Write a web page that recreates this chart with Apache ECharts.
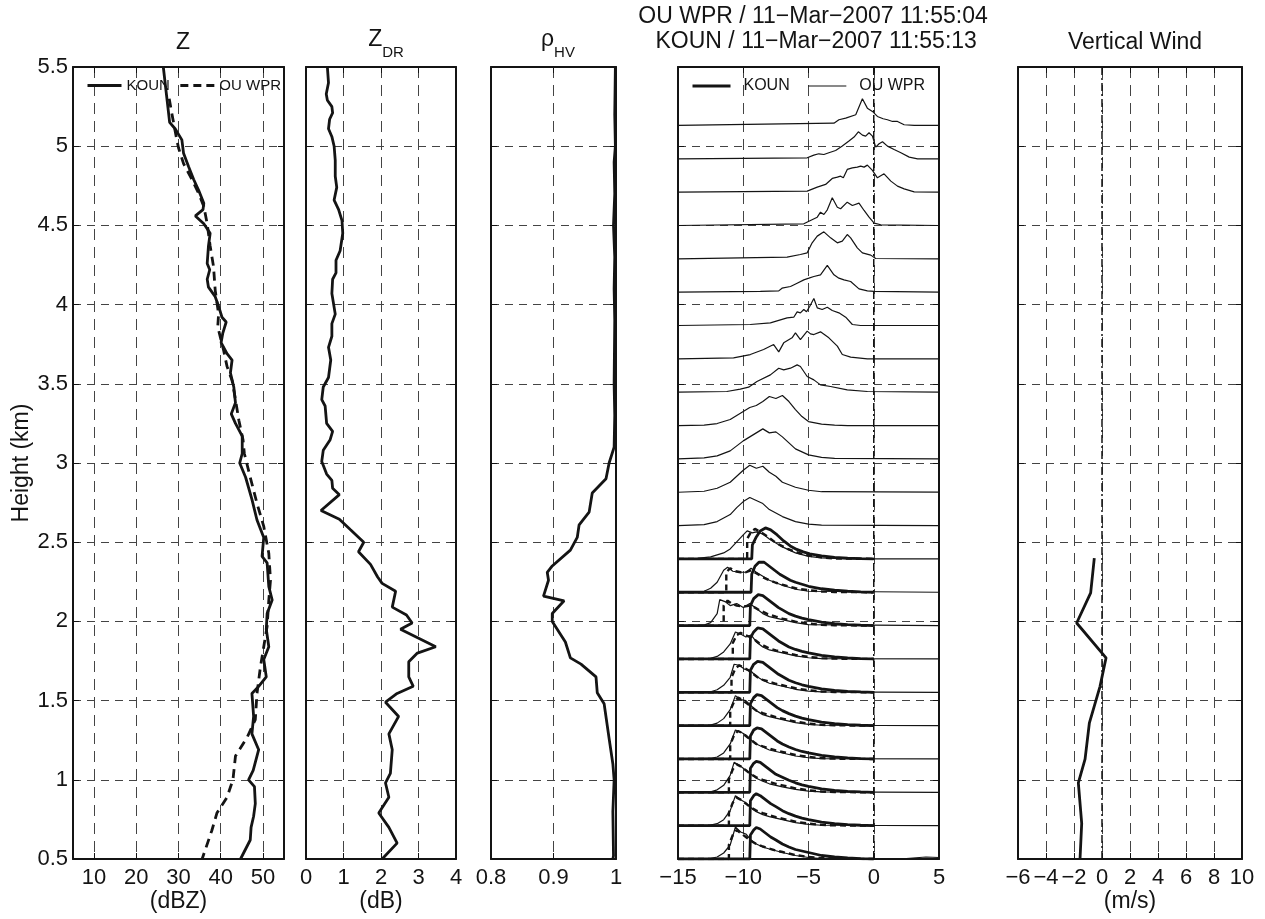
<!DOCTYPE html>
<html><head><meta charset="utf-8">
<script src="https://cdn.jsdelivr.net/npm/echarts/dist/echarts.min.js"></script>
<style>html,body{margin:0;padding:0;background:#fff}#c{width:1265px;height:919px}</style>
</head><body><div id="c"></div><script>
// ---------------- DATA ----------------
// Panel 1: reflectivity (dBZ) vs height (km)
const zKounDbz = [26.4,27.9,29.2,30.8,31.2,32.4,33.6,34.8,36.0,35.8,34.0,36.0,37.5,37.1,36.8,37.4,36.8,37.1,38.7,39.5,40.3,41.3,40.5,40.1,41.5,42.7,42.3,43.1,43.5,42.5,43.5,45.1,45.1,44.5,45.9,47.4,48.6,50.2,49.8,51.0,51.4,52.2,51.0,50.8,51.4,50.2,50.8,49.0,47.4,47.8,47.4,49.0,47.7,46.6,48.0,48.2,47.8,47.2,47.0,44.7];
const zKounHeight = [5.5,5.15,5.11,5.04,4.955,4.87,4.79,4.72,4.64,4.60,4.56,4.51,4.45,4.37,4.26,4.22,4.16,4.11,4.05,3.99,3.92,3.89,3.82,3.76,3.69,3.65,3.57,3.48,3.38,3.31,3.25,3.17,3.06,3.0,2.91,2.77,2.64,2.53,2.41,2.37,2.22,2.135,2.05,1.95,1.84,1.76,1.65,1.59,1.545,1.40,1.29,1.19,1.06,1.0,0.957,0.85,0.77,0.70,0.62,0.5];
const zWprDbz = [27.8,28.4,29.6,30.0,31.2,33.2,34.8,36.0,36.8,37.5,38.3,38.7,39.5,39.3,40.7,41.5,42.7,43.5,44.3,45.3,45.6,47.0,48.6,50.2,51.4,51.8,51.4,51.0,50.2,49.4,48.6,48.2,46.3,43.5,42.9,41.5,39.1,37.9,35.6];
const zWprHeight = [5.3,5.21,5.04,4.99,4.89,4.79,4.70,4.62,4.51,4.37,4.24,4.09,3.94,3.86,3.71,3.61,3.52,3.40,3.27,3.145,3.06,2.91,2.745,2.60,2.43,2.26,2.135,1.97,1.84,1.71,1.545,1.38,1.27,1.15,1.0,0.89,0.79,0.68,0.5];
// Panel 2: differential reflectivity (dB)
const zdrDb = [0.57,0.60,0.54,0.57,0.69,0.71,0.63,0.60,0.69,0.75,0.78,0.78,0.82,0.75,0.87,0.96,0.98,0.91,0.80,0.80,0.71,0.69,0.78,0.69,0.69,0.60,0.66,0.60,0.46,0.42,0.51,0.55,0.71,0.64,0.46,0.42,0.55,0.69,0.71,0.89,0.40,0.89,1.18,1.54,1.40,1.72,1.91,2.03,2.39,2.30,2.68,2.83,2.52,3.46,2.97,2.74,2.74,2.86,2.43,2.12,2.47,2.21,2.30,2.25,2.12,2.21,1.94,2.21,2.43,2.03];
const zdrHeight = [5.5,5.40,5.33,5.29,5.25,5.21,5.17,5.11,5.06,5.0,4.91,4.81,4.74,4.66,4.60,4.53,4.45,4.34,4.28,4.20,4.16,4.07,3.94,3.88,3.80,3.73,3.65,3.54,3.48,3.40,3.36,3.25,3.20,3.145,3.08,3.01,2.93,2.89,2.84,2.80,2.70,2.645,2.58,2.50,2.44,2.36,2.28,2.24,2.19,2.09,2.04,1.99,1.95,1.84,1.80,1.745,1.65,1.59,1.545,1.49,1.40,1.29,1.19,1.04,0.98,0.89,0.79,0.70,0.60,0.5];
// Panel 3: correlation coefficient
const rhoHv = [0.999,0.998,0.999,0.997,0.998,0.996,0.998,0.997,0.998,0.997,0.998,0.997,0.989,0.984,0.962,0.957,0.941,0.938,0.927,0.898,0.890,0.892,0.884,0.917,0.898,0.898,0.919,0.927,0.944,0.968,0.970,0.981,0.989,0.995,0.997,0.995,0.996,0.995];
const rhoHeight = [5.5,5.2,5.0,4.9,4.7,4.5,4.3,4.1,3.9,3.5,3.3,3.1,3.0,2.90,2.81,2.69,2.61,2.53,2.45,2.35,2.31,2.26,2.16,2.13,2.05,2.0,1.87,1.77,1.73,1.65,1.55,1.48,1.26,1.10,1.0,0.8,0.52,0.5];
// Panel 5: vertical wind (m/s)
const wWind = [-0.55,-0.81,-1.81,0.29,-0.14,-0.90,-1.21,-1.69,-1.45,-1.57];
const wHeight = [2.40,2.18,1.99,1.77,1.59,1.36,1.13,0.98,0.725,0.50];
// Panel 4: Doppler spectra, [velocity m/s, relative power] per range gate (bottom gate first)
const gateBaseKm = 0.5, gateStepKm = 0.2105;
const wprSpectra = [
 [[-15,0],[-12.5,0.5],[-12,2],[-11.5,6],[-11,14],[-10.6,32],[-10.2,27],[-9.8,25],[-9.4,19],[-9,15],[-8.5,12],[-8,10],[-7,6.5],[-6,3.5],[-5,1.5],[-4,0.5],[0,0],[2.5,0.5],[4,2],[5,1.5]],
 [[-15,0],[-12.5,0.5],[-12,2],[-11.5,6],[-11,15],[-10.6,30],[-10.2,26],[-9.8,23],[-9.4,18],[-9,14],[-8.5,11],[-8,9],[-7,6],[-6,3],[-5,1.2],[-4,0.4],[5,0]],
 [[-15,0],[-12.5,0.5],[-12,2.5],[-11.5,7],[-11,17],[-10.7,30],[-10.3,27],[-9.9,23],[-9.4,18],[-9,14],[-8.5,11],[-8,8.5],[-7,5.5],[-6,3],[-5,1.2],[-4,0.4],[5,0]],
 [[-15,0],[-12.5,0.5],[-12,2],[-11.5,6],[-11,15],[-10.6,29],[-10.2,27],[-9.8,24],[-9.4,19],[-9,15],[-8.5,12],[-8,9],[-7,6],[-6,3],[-5,1.2],[-4,0.4],[5,0]],
 [[-15,0],[-12.5,0.5],[-12,2.5],[-11.5,7],[-11,16],[-10.6,30],[-10.2,26],[-9.8,25],[-9.4,20],[-9,15],[-8.5,11],[-8,9],[-7,6],[-6,3],[-5,1.2],[-4,0.4],[5,0]],
 [[-15,0],[-12.5,0.5],[-12,2.5],[-11.5,7],[-11,15],[-10.7,28],[-10.3,27],[-9.9,23],[-9.4,21],[-9,16],[-8.5,12],[-8,9],[-7,6],[-6,3],[-5,1.2],[-4,0.4],[5,0]],
 [[-15,0],[-12.5,0.5],[-12,2.5],[-11.5,7],[-11,15],[-10.6,27],[-10.2,25],[-9.8,22],[-9.4,24],[-9,17],[-8.5,12],[-8,9],[-7,6],[-6,3],[-5,1.2],[-4,0.4],[5,0]],
 [[-15,0],[-13,0.5],[-12.5,3],[-12,12],[-11.8,26],[-11.4,24],[-11,20],[-10.5,22],[-10,18],[-9.5,22],[-9,17],[-8.5,12],[-8,9],[-7,6],[-6,3],[-5,1],[5,0]],
 [[-15,0],[-13,1],[-12.5,4],[-12,10],[-11.5,22],[-11.2,25],[-10.8,21],[-10.3,20],[-9.8,20],[-9.4,24],[-9,20],[-8.5,16],[-8,12],[-7,7],[-6,3],[-5,1],[5,0]],
 [[-15,0],[-13.5,0.5],[-12.5,2],[-11.5,6],[-11,10],[-10.5,17],[-10,24],[-9.7,28],[-9.3,26],[-9,27],[-8.5,25],[-8,20],[-7,12],[-6,6],[-5,2.5],[-4,1],[-2,0],[5,0]],
 [[-15,0],[-13,1],[-12,4],[-11,11],[-10.5,18],[-10,24],[-9.5,28],[-9,25],[-8.5,22],[-8,16],[-7,9],[-6,4],[-5,1.5],[-4,0.5],[5,0]],
 [[-15,0],[-13,1],[-12,4],[-11,10],[-10.5,16],[-10,22],[-9.5,27],[-9,24],[-8.5,26],[-8,20],[-7.5,16],[-7,10],[-6,5],[-5,2],[-4,0.5],[5,0]],
 [[-15,0],[-13,1],[-12,3],[-11,8],[-10.5,13],[-10,18],[-9.5,22],[-9,26],[-8.5,30],[-8,26],[-7.5,27],[-7,22],[-6.5,16],[-6,10],[-5,4],[-4,1.5],[-3,0.5],[5,0]],
 [[-15,0],[-13,0.5],[-12,2],[-11,6],[-10.5,10],[-10,14],[-9.5,18],[-9,20],[-8.5,24],[-8,29],[-7.5,27],[-7,30],[-6.5,24],[-6,16],[-5.5,9],[-5,4],[-4,1.5],[-3,0.5],[-2,0],[5,0]],
 [[-15,0],[-11.26,0.7],[-10.23,3],[-9.59,5],[-8.95,10.7],[-7.92,17.3],[-7.28,24],[-6.90,22.3],[-6.38,24],[-5.87,27.3],[-5.62,25.7],[-5.10,15.7],[-4.59,12.3],[-4.08,7.3],[-3.31,5.7],[-2.03,2.3],[-0.49,0.7],[5,0]],
 [[-15,0],[-10.74,1],[-9.46,4.3],[-8.44,9.3],[-7.67,14.3],[-7.28,7],[-6.90,16],[-6.26,21],[-6.00,26],[-5.62,19.3],[-5.10,27.7],[-4.85,25],[-4.59,24.3],[-4.08,27],[-3.44,21],[-2.79,12.7],[-2.41,4.3],[-1.77,1.7],[-0.49,0],[5,0]],
 [[-15,0],[-9.46,1],[-7.92,2.7],[-6.64,7.7],[-6.13,8.3],[-5.87,13.7],[-5.62,12.7],[-5.36,16],[-5.15,13.7],[-4.90,19.3],[-4.59,27],[-4.33,17.7],[-3.95,16],[-3.56,18.3],[-3.18,15],[-2.67,12.7],[-2.15,8.3],[-1.64,1],[-1.0,0],[5,0]],
 [[-15,0],[-8.69,0.7],[-7.28,1.3],[-7.03,4],[-6.38,5.7],[-5.87,9],[-5.36,12.3],[-4.97,14],[-4.59,15.7],[-4.08,17.3],[-3.56,26.7],[-3.05,17.3],[-2.67,14],[-2.28,12.3],[-1.77,10.7],[-1.13,3.3],[-0.49,1.3],[0.03,0.7],[5,0]],
 [[-15,0],[-6.64,1.7],[-5.62,4.3],[-5.10,6],[-4.72,16],[-4.33,22.7],[-3.82,27],[-3.31,21],[-2.79,16],[-2.41,17.7],[-2.03,24.3],[-1.77,21],[-1.26,11],[-0.87,6],[-0.23,3.7],[0.15,0.3],[5,0]],
 [[-15,0],[-5.36,1.7],[-4.85,5],[-4.33,8.3],[-4.08,13.3],[-3.82,11],[-3.56,15.7],[-3.18,27.7],[-2.79,18.3],[-2.54,16.7],[-2.03,23.3],[-1.64,20],[-1.13,22.3],[-0.74,15],[-0.36,8.3],[0.03,2.3],[0.54,0.7],[5,0]],
 [[-15,0],[-5.10,1],[-4.33,5],[-3.69,7.7],[-3.18,13.7],[-2.79,15],[-2.54,16],[-2.33,14.3],[-2.03,22.7],[-1.64,24.3],[-1.26,25],[-1.0,26],[-0.74,25],[-0.49,27],[-0.10,21.7],[0.28,14.3],[0.79,18.3],[1.31,11],[1.82,6],[2.33,3.3],[3.10,0.3],[5,0]],
 [[-15,0],[-5.10,1],[-4.59,3.7],[-4.21,5],[-3.82,4.3],[-3.44,6],[-2.92,8.3],[-2.41,12.7],[-1.90,17.7],[-1.51,21.7],[-1.18,27],[-0.87,23.7],[-0.62,22.7],[-0.36,26],[-0.10,22.7],[0.15,11.7],[0.41,15],[0.67,17],[1.05,12.7],[1.56,9.3],[2.08,6],[2.72,1.7],[3.36,0],[5,0]],
 [[-15,0],[-3.05,2.3],[-2.67,5.7],[-2.15,7.3],[-1.38,10.7],[-0.87,26.7],[-0.49,17.3],[-0.10,14],[0.28,9],[0.72,6.7],[1.05,5.7],[1.44,4],[1.82,4],[2.33,0.7],[3.10,0],[5,0]]
];
// KOUN spectra (thick), lowest 10 gates
const kounSpectra = [
 [[-15,0],[-9.5,0],[-9.45,24],[-9.2,29],[-9.0,31.5],[-8.7,30],[-8.3,26],[-7.9,22],[-7.5,19],[-7,15],[-6.5,12],[-6,9.5],[-5.5,8],[-5,6.5],[-4,3.5],[-3,2],[-2,1],[-1,0.4],[0,0]],
 [[-15,0],[-9.5,0],[-9.45,25],[-9.2,30],[-9.0,32],[-8.7,30],[-8.3,26],[-7.9,22],[-7.5,19],[-7,15],[-6.5,12],[-6,9.5],[-5.5,7.5],[-5,6],[-4,3.5],[-3,2],[-2,1],[-1,0.4],[0,0]],
 [[-15,0],[-9.5,0],[-9.45,24],[-9.2,29],[-9.0,31],[-8.7,30],[-8.3,26],[-7.9,22],[-7.5,18],[-7,15],[-6.5,12],[-6,9.5],[-5.5,7.5],[-5,6],[-4,3.5],[-3,2],[-2,1],[-1,0.4],[0,0]],
 [[-15,0],[-9.5,0],[-9.45,23],[-9.2,29],[-8.95,31],[-8.6,30],[-8.2,26],[-7.8,22],[-7.4,18],[-7,15],[-6.5,12],[-6,9.5],[-5.5,7.5],[-5,6],[-4,3.5],[-3,2],[-2,1],[-1,0.4],[0,0]],
 [[-15,0],[-9.5,0],[-9.45,22],[-9.2,28],[-8.95,31],[-8.6,30],[-8.2,26],[-7.8,22],[-7.4,18],[-7,15],[-6.5,12],[-6,9.5],[-5.5,7.5],[-5,6],[-4,3.5],[-3,2],[-2,1],[-1,0.4],[0,0]],
 [[-15,0],[-9.5,0],[-9.45,22],[-9.2,28],[-8.9,31],[-8.5,30],[-8.1,26],[-7.7,22],[-7.3,18],[-6.9,15],[-6.5,12],[-6,9.5],[-5.5,7.5],[-5,6],[-4,3.5],[-3,2],[-2,1],[-1,0.4],[0,0]],
 [[-15,0],[-9.5,0],[-9.45,21],[-9.2,27],[-8.9,31],[-8.5,30],[-8.1,26],[-7.7,22],[-7.3,18],[-6.9,15],[-6.5,12],[-6,9.5],[-5.5,7.5],[-5,6],[-4,3.5],[-3,2],[-2,1],[-1,0.4],[0,0]],
 [[-15,0],[-9.5,0],[-9.45,20],[-9.2,27],[-8.85,31],[-8.5,30],[-8.1,26],[-7.7,22],[-7.3,18],[-6.9,15],[-6.5,12],[-6,9.5],[-5.5,7.5],[-5,6],[-4,3.5],[-3,2],[-2,1],[-1,0.4],[0,0]],
 [[-15,0],[-9.4,0],[-9.35,18],[-9.1,26],[-8.8,30],[-8.4,30],[-8,26],[-7.6,22],[-7.2,18],[-6.8,15],[-6.4,12],[-6,10],[-5.5,8],[-5,6],[-4,3.5],[-3,2],[-2,1],[-1,0.4],[0,0]],
 [[-15,0],[-9.35,0],[-9.3,14],[-9,22],[-8.7,28],[-8.3,31],[-7.9,29],[-7.4,24],[-6.9,18],[-6.4,13],[-5.9,9.5],[-5.4,7],[-4.9,5],[-4,3],[-3,1.5],[-2,0.7],[-1,0.3],[0,0]]
];
// Adjusted (dashed) spectra, lowest 10 gates
const adjSpectra = [
 [[-15,0],[-11.1,0],[-11.1,14],[-10.8,24],[-10.5,29],[-10.2,26],[-9.8,22],[-9.4,18],[-9,15],[-8.5,12.5],[-8,10.5],[-7.5,8.5],[-7,7],[-6,4],[-5,2],[-4,0.8],[-3,0.3],[0,0]],
 [[-15,0],[-11.1,0],[-11.1,13],[-10.8,23],[-10.5,28],[-10.2,26],[-9.8,22],[-9.4,18],[-9,15],[-8.5,12.5],[-8,10.5],[-7.5,8.5],[-7,7],[-6,4],[-5,2],[-4,0.8],[-3,0.3],[0,0]],
 [[-15,0],[-11.1,0],[-11.1,13],[-10.8,23],[-10.5,28],[-10.2,26],[-9.8,22],[-9.4,18],[-9,15],[-8.5,12.5],[-8,10.5],[-7.5,8.5],[-7,7],[-6,4],[-5,2],[-4,0.8],[-3,0.3],[0,0]],
 [[-15,0],[-11.0,0],[-11.0,14],[-10.7,24],[-10.4,28],[-10.1,26],[-9.7,22],[-9.3,18],[-9,15],[-8.5,12.5],[-8,10.5],[-7.5,8.5],[-7,7],[-6,4],[-5,2],[-4,0.8],[-3,0.3],[0,0]],
 [[-15,0],[-11.0,0],[-11.0,15],[-10.7,24],[-10.4,28],[-10.1,26],[-9.7,22],[-9.3,18],[-9,15],[-8.5,12.5],[-8,10.5],[-7.5,8.5],[-7,7],[-6,4],[-5,2],[-4,0.8],[-3,0.3],[0,0]],
 [[-15,0],[-10.9,0],[-10.9,15],[-10.6,24],[-10.3,27],[-10,25],[-9.6,22],[-9.2,18],[-8.9,15],[-8.5,12.5],[-8,10.5],[-7.5,8.5],[-7,7],[-6,4],[-5,2],[-4,0.8],[-3,0.3],[0,0]],
 [[-15,0],[-10.8,0],[-10.8,16],[-10.5,24],[-10.2,26],[-9.9,24],[-9.5,22],[-9.1,19],[-8.8,16],[-8.4,13],[-8,10.5],[-7.5,8.5],[-7,7],[-6,4],[-5,2],[-4,0.8],[-3,0.3],[0,0]],
 [[-15,0],[-11.5,0],[-11.5,20],[-11.2,25],[-10.9,22],[-10.5,20],[-10,19],[-9.5,20],[-9.1,18],[-8.7,15],[-8.2,12],[-7.5,9],[-7,7],[-6,4],[-5,2],[-4,0.8],[-3,0.3],[0,0]],
 [[-15,0],[-11.3,0],[-11.3,20],[-11.0,24],[-10.6,21],[-10.2,20],[-9.8,20],[-9.4,22],[-9,19],[-8.5,15],[-8,12],[-7.5,9.5],[-7,7.5],[-6,4],[-5,2],[-4,0.8],[-3,0.3],[0,0]],
 [[-15,0],[-9.7,0],[-9.7,20],[-9.4,27],[-9.1,30],[-8.7,27],[-8.2,23],[-7.7,18],[-7.2,14],[-6.6,10],[-6,7],[-5.5,5],[-5,3.5],[-4,1.5],[-3,0.5],[0,0]]
];
const POWER_TO_KM = 1 / 158.4;

// ---------------- LAYOUT / STYLE ----------------
const INK = '#141414', GRID_INK = '#444';
const FONT = "'Liberation Sans', Arial, sans-serif";
const FS = 22, FS_T = 23;
const Y_MIN = 0.5, Y_MAX = 5.5, Y_STEP = 0.5;
const TOP = 67, HEIGHT = 792;
const panels = [
  {left: 73,   width: 211, min: 5,   max: 55, interval: 5,   custom: [10,20,30,40,50], name: '(dBZ)'},
  {left: 306,  width: 150, min: 0,   max: 4,  interval: 1,   name: '(dB)'},
  {left: 491,  width: 125, min: 0.8, max: 1,  interval: 0.1, name: ''},
  {left: 678,  width: 261, min: -15, max: 5,  interval: 5,   name: ''},
  {left: 1018, width: 224, min: -6,  max: 10, interval: 2,   name: '(m/s)'}
];
const fmtNum = v => { const r = Math.round(v * 100) / 100; return (r < 0 ? '\u2212' : '') + Math.abs(r); };
const tickStyle = {inside: true, length: 6, lineStyle: {color: INK, width: 1}};
const axisLineStyle = {show: true, onZero: false, lineStyle: {color: INK, width: 2}};

const grid = panels.map(p => ({left: p.left, width: p.width, top: TOP, height: HEIGHT, containLabel: false, outerBoundsMode: 'none'}));
const xAxis = [], yAxis = [];
panels.forEach((p, i) => {
  const tick = Object.assign({}, tickStyle, p.custom ? {customValues: p.custom} : {});
  xAxis.push({
    gridIndex: i, type: 'value', position: 'bottom', min: p.min, max: p.max, interval: p.interval,
    axisLine: axisLineStyle, axisTick: tick,
    axisLabel: Object.assign({show: true, margin: 8, color: INK, fontFamily: FONT, fontSize: FS, formatter: fmtNum, showMinLabel: true, showMaxLabel: true}, p.custom ? {customValues: p.custom} : {}),
    splitLine: {show: true, lineStyle: {color: GRID_INK, width: 1, type: [11, 7]}},
    name: p.name, nameLocation: 'middle', nameGap: 31, nameMoveOverlap: false,
    nameTextStyle: {color: INK, fontFamily: FONT, fontSize: FS_T}
  });
  xAxis.push({
    gridIndex: i, type: 'value', position: 'top', min: p.min, max: p.max, interval: p.interval,
    axisLine: axisLineStyle, axisTick: tick, axisLabel: {show: false}, splitLine: {show: false}
  });
  yAxis.push({
    gridIndex: i, type: 'value', position: 'left', min: Y_MIN, max: Y_MAX, interval: Y_STEP,
    axisLine: axisLineStyle, axisTick: tickStyle,
    axisLabel: {show: i === 0, margin: 5, color: INK, fontFamily: FONT, fontSize: FS, formatter: fmtNum},
    splitLine: {show: true, lineStyle: {color: GRID_INK, width: 1, type: [8, 6]}},
    name: i === 0 ? 'Height (km)' : '', nameLocation: 'middle', nameGap: 40, nameMoveOverlap: false,
    nameTextStyle: {color: INK, fontFamily: FONT, fontSize: FS_T}
  });
  yAxis.push({
    gridIndex: i, type: 'value', position: 'right', min: Y_MIN, max: Y_MAX, interval: Y_STEP,
    axisLine: axisLineStyle, axisTick: tickStyle, axisLabel: {show: false}, splitLine: {show: false}
  });
});

const zip = (xs, ys) => xs.map((x, j) => [x, ys[j]]);
const mk = (panel, name, data, lineStyle, z) => ({
  type: 'line', name, xAxisIndex: 2 * panel, yAxisIndex: 2 * panel, data,
  symbol: 'none', showSymbol: false, silent: true, animation: false, clip: true,
  lineStyle: Object.assign({color: INK, width: 2.6}, lineStyle), itemStyle: {color: INK}, z: z || 3
});

const series = [];
series.push(mk(0, 'KOUN', zip(zKounDbz, zKounHeight), {width: 2.8}));
series.push(mk(0, 'OU WPR', zip(zWprDbz, zWprHeight), {width: 2.8, type: [9, 6]}));
series.push(mk(1, 'ZDR', zip(zdrDb, zdrHeight), {width: 2.8}));
series.push(mk(2, 'rhoHV', zip(rhoHv, rhoHeight), {width: 2.8}));
// zero reference lines (dash-dot)
series.push(mk(3, 'zero', [[0, Y_MIN], [0, Y_MAX]], {width: 1.5, type: [8, 3, 2, 3]}, 2));
series.push(mk(4, 'zero5', [[0, Y_MIN], [0, Y_MAX]], {width: 1.5, type: [8, 3, 2, 3]}, 2));
series.push(mk(4, 'Vertical wind', zip(wWind, wHeight), {width: 2.8}));
const gateHeight = k => gateBaseKm + k * gateStepKm;
wprSpectra.forEach((spec, k) => {
  series.push(mk(3, 'OU WPR (spectra)', spec.map(([v, p]) => [v, gateHeight(k) + p * POWER_TO_KM]), {width: 1.2}, 4));
});
adjSpectra.forEach((spec, k) => {
  series.push(mk(3, 'adjusted', spec.map(([v, p]) => [v, gateHeight(k) + p * POWER_TO_KM]), {width: 2.4, type: [6, 4]}, 5));
});
kounSpectra.forEach((spec, k) => {
  series.push(mk(3, 'KOUN (spectra)', spec.map(([v, p]) => [v, gateHeight(k) + p * POWER_TO_KM]), {width: 2.8}, 6));
});

const titleStyle = {color: INK, fontFamily: FONT, fontSize: FS_T, fontWeight: 'normal', lineHeight: 26};
const subRich = {
  a: {fontFamily: FONT, fontSize: FS_T, color: INK, lineHeight: 32, verticalAlign: 'top'},
  b: {fontFamily: FONT, fontSize: 15, color: INK, lineHeight: 15, verticalAlign: 'bottom'}
};
const option = {
  animation: false,
  backgroundColor: '#fff',
  grid, xAxis, yAxis, series,
  title: [
    {text: 'Z', left: 178, top: 25, textAlign: 'center', textStyle: titleStyle},
    {text: '{a|Z}{b|DR}', left: 381, top: 23, textAlign: 'center', textStyle: Object.assign({}, titleStyle, {rich: subRich})},
    {text: '{a|\u03c1}{b|HV}', left: 553, top: 23, textAlign: 'center', textStyle: Object.assign({}, titleStyle, {rich: subRich})},
    {text: 'OU WPR / 11\u2212Mar\u22122007 11:55:04\n KOUN / 11\u2212Mar\u22122007 11:55:13', left: 808, top: -1, textAlign: 'center',
      textStyle: Object.assign({}, titleStyle, {lineHeight: 25})},
    {text: 'Vertical Wind', left: 1130, top: 25, textAlign: 'center', textStyle: titleStyle}
  ],
  legend: [
    {data: [{name: 'KOUN', lineStyle: {width: 3}}, {name: 'OU WPR', lineStyle: {width: 3, type: [8, 5]}}],
      left: 81, top: 73, itemWidth: 34, itemHeight: 10, itemGap: 9, selectedMode: false,
      itemStyle: {opacity: 0}, textStyle: {color: INK, fontFamily: FONT, fontSize: 15}},
    {data: [{name: 'KOUN (spectra)', lineStyle: {width: 3}}, {name: 'OU WPR (spectra)', lineStyle: {width: 1.2}}],
      left: 686, top: 73, itemWidth: 38, itemHeight: 10, itemGap: 18, selectedMode: false,
      itemStyle: {opacity: 0}, formatter: n => n.replace(' (spectra)', ''),
      textStyle: {color: INK, fontFamily: FONT, fontSize: 16, padding: [0, 0, 0, 8]}}
  ]
};
const chart = echarts.init(document.getElementById('c'), null, {renderer: 'canvas'});
chart.setOption(option);
</script></body></html>
